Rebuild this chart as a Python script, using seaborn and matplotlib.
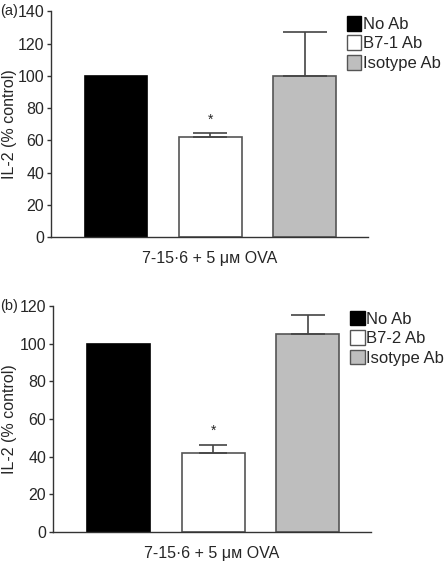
import matplotlib
matplotlib.use("Agg")
import matplotlib.pyplot as plt
import seaborn as sns
import pandas as pd
from matplotlib.patches import Patch

# data
groups_a = ["No Ab", "B7-1 Ab", "Isotype Ab"]
values_a = [100, 62, 100]
errors_a = [0, 2.8, 27]
groups_b = ["No Ab", "B7-2 Ab", "Isotype Ab"]
values_b = [100, 42, 105]
errors_b = [0, 4, 10]
star_a = 73
star_b = 54
xlabel = "7-15·6 + 5 μᴍ OVA"
ylabel = "IL-2 (% control)"

sns.set_theme(style="ticks")
plt.rcParams['font.family'] = ['Liberation Sans', 'DejaVu Sans']
plt.rcParams['font.size'] = 12

fills = ["#000000", "#ffffff", "#bebebe"]
edges = ["#000000", "#555555", "#555555"]

W, H = 447, 562
fig = plt.figure(figsize=(4.47, 5.62), dpi=100)

def panel(rect, groups, values, errors, ymax, star, tag, caps):
    ax = fig.add_axes(rect)
    df = pd.DataFrame({"g": groups, "v": values})
    sns.barplot(data=df, x="g", y="v", hue="g", palette=fills, order=groups,
                hue_order=groups, legend=False, width=0.667, ax=ax, errorbar=None)
    for p, ec in zip(ax.patches, edges):
        p.set_edgecolor(ec)
        p.set_linewidth(1.2)
    for i, (v, e) in enumerate(zip(values, errors)):
        if e > 0:
            ax.errorbar(i, v, yerr=[[0], [e]], fmt="none", ecolor="#444444",
                        elinewidth=1.2, capsize=caps[i], capthick=1.2)
    ax.text(1, star, "*", ha="center", va="center", fontsize=10)
    ax.set_xlim(-0.69, 2.67)
    ax.set_ylim(0, ymax)
    ax.set_yticks(range(0, ymax + 1, 20))
    ax.set_xticks([])
    ax.set_xlabel(xlabel, fontsize=11.5, labelpad=10)
    ax.set_ylabel(ylabel, fontsize=11.5)
    axw = rect[2] * W
    left_px = rect[0] * W
    ax.yaxis.set_label_coords((10 - left_px) / axw, 0.5)
    ax.yaxis.label.set_verticalalignment("center")
    for s in ["top", "right"]:
        ax.spines[s].set_visible(False)
    for s in ["left", "bottom"]:
        ax.spines[s].set_color("#333333")
        ax.spines[s].set_linewidth(1.0)
    ax.tick_params(axis="y", length=3, width=1.0, color="#333333", pad=2, labelsize=11.5)
    top_px = (1 - rect[1] - rect[3]) * H
    fig.text(0.0, 1 - top_px / H, tag, ha="left", va="center", fontsize=10.5)
    handles = [Patch(facecolor=f, edgecolor=e, linewidth=1.0) for f, e in zip(fills, edges)]
    ax.legend(handles, groups, loc="upper left", bbox_to_anchor=(0.935, 0.98),
              frameon=False, handlelength=0.85, handleheight=1.0, handletextpad=0.1,
              labelspacing=0.2, borderaxespad=0, borderpad=0, fontsize=12)
    return ax

axa = panel([0.114, 0.578, 0.709, 0.402], groups_a, values_a, errors_a, 140, star_a, "(a)", [0, 12, 16])
axb = panel([0.119, 0.0534, 0.711, 0.4021], groups_b, values_b, errors_b, 120, star_b, "(b)", [0, 10, 12.5])

fig.savefig("out.png", dpi=100)
